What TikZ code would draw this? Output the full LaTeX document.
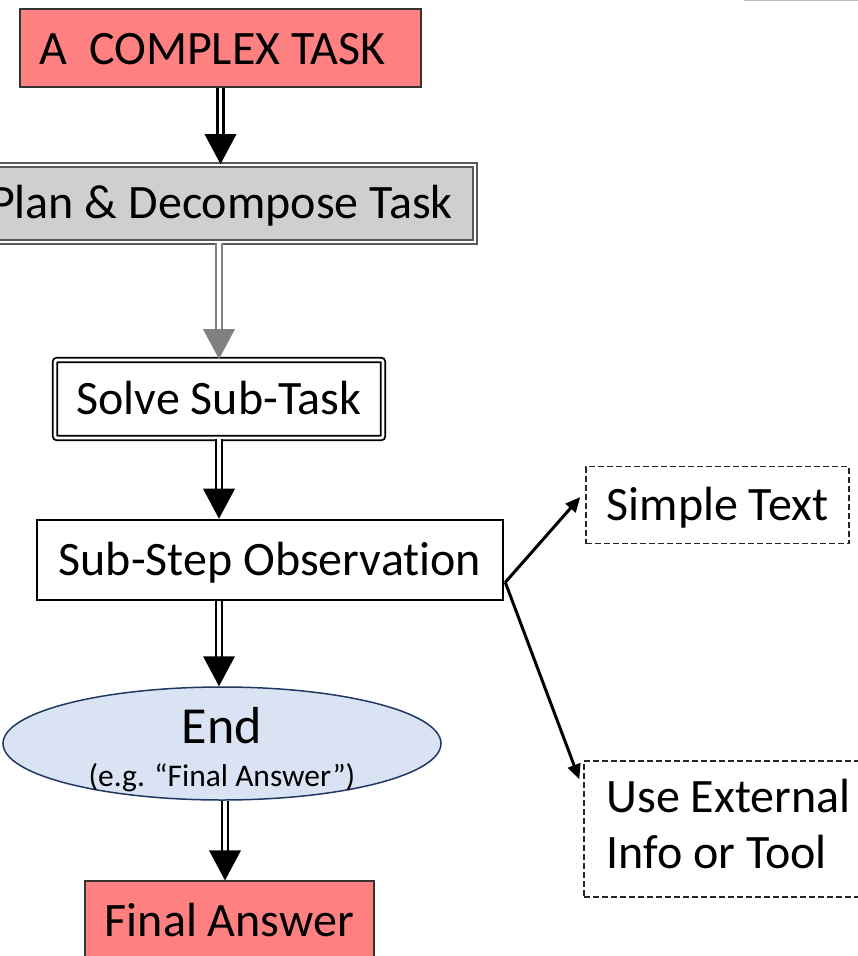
\documentclass[tikz,border=0pt]{standalone}
\usepackage{fontspec}
\setmainfont{Carlito}[Ligatures=NoCommon]
\usetikzlibrary{shapes.geometric,calc,arrows.meta}
\definecolor{taskred}{HTML}{FF8080}
\definecolor{plangray}{HTML}{D0CECE}
\definecolor{endblue}{HTML}{DAE3F3}
\definecolor{endline}{HTML}{203864}
\definecolor{shaftgray}{HTML}{808080}
\tikzset{
  lbl/.style={font=\fontsize{48pt}{56pt}\selectfont},
  capc/.style={text height=30pt, text depth=0pt},
  redbox/.style={lbl, capc, draw=black!80, line width=1.2pt, fill=taskred, inner sep=0pt},
  planbox/.style={lbl, capc, draw=black!65, double=white, line width=1.8pt, double distance=2.4pt,
    fill=plangray, inner sep=0pt},
  solvebox/.style={lbl, capc, draw=black, double=white, line width=1.8pt, double distance=2.6pt,
    rounded corners=2pt, inner sep=0pt},
  obsbox/.style={lbl, capc, draw=black, line width=2.6pt, fill=white, inner sep=0pt},
  dashbox/.style={lbl, capc, draw=black!85, line width=1.3pt, dash pattern=on 6pt off 3pt, inner sep=0pt},
  endshape/.style={ellipse, draw=endline, line width=1.5pt, fill=endblue, inner sep=0pt},
  shaft/.style={draw=black, double=white, line width=2.8pt, double distance=3.2pt},
  sidearrow/.style={draw=black, line width=3pt, -{Triangle[length=15pt,width=13pt]}},
}
% triangular head of a double-shafted flow arrow, tip at #1
\newcommand{\flowhead}[2]{\fill[#2] (#1) -- ++(-16,-30) -- ++(32,0) -- cycle;}
\begin{document}
\begin{tikzpicture}[x=1pt, y=-1pt]
  \useasboundingbox (0,0) rectangle (858,956);
  \clip (0,0) rectangle (858,956);

  % boxes of the main flow
  \node[redbox, minimum width=401pt, minimum height=78pt] (task) at (220.5,48) {};
  \node[lbl, anchor=base west, inner sep=0pt] (tasktxt) at ($(task.west)+(20,16)$)
        {A\ \ COMPLEX TASK};
  \node[planbox, minimum width=507pt, minimum height=77pt] (plan) at (221.5,203.5)
        {Plan \& Decompose Task};
  \node[solvebox, minimum width=328pt, minimum height=78pt] (solve) at (219,399)
        {Solve Sub-Task};
  \node[obsbox, minimum width=466pt, minimum height=80pt] (obs) at (270,560)
        {Sub-Step Observation};
  \node[endshape, minimum width=438pt, minimum height=113pt] (endnode) at (222,743.5) {};
  \node[anchor=base, font=\fontsize{52pt}{60pt}\selectfont] (endtxt)
        at ($(endnode.center)+(0,-0.5)$) {End};
  \node[anchor=base, font=\fontsize{31.5pt}{36pt}\selectfont] (egtxt)
        at ($(endnode.center)+(0,42.5)$) {(e.g. “Final Answer”)};
  \node[redbox, minimum width=289pt, minimum height=80pt] (final) at (229.5,921)
        {Final Answer};

  % side outcomes
  \node[dashbox, minimum width=263pt, minimum height=77pt] (simple) at (717.5,505)
        {Simple Text};
  \node[dashbox, minimum width=286pt, minimum height=136pt] (ext) at (727,829) {};
  \node[lbl, anchor=base west, inner sep=0pt] (exttxt1) at ($(ext.north west)+(23,52)$)
        {Use External};
  \node[lbl, anchor=base west, inner sep=0pt] (exttxt2) at ($(ext.north west)+(23,108)$)
        {Info or Tool};

  % double-shafted flow arrows
  \coordinate (t1) at (task.south |- plan.north);
  \draw[shaft] (task.south) -- ($(t1)+(0,-29)$);
  \flowhead{t1}{black}

  \coordinate (t2) at (solve.north);
  \draw[shaft, draw=shaftgray] (plan.south -| solve.north) -- ($(t2)+(0,-29)$);
  \flowhead{t2}{shaftgray}

  \coordinate (t3) at (solve.south |- obs.north);
  \draw[shaft] (solve.south) -- ($(t3)+(0,-29)$);
  \flowhead{t3}{black}

  \coordinate (t4) at (solve.south |- endnode.north);
  \draw[shaft] (solve.south |- obs.south) -- ($(t4)+(0,-29)$);
  \flowhead{t4}{black}

  \coordinate (t5) at ($(final.north)+(-4.5,0)$);
  \draw[shaft] (t5 |- endnode.south) -- ($(t5)+(0,-29)$);
  \flowhead{t5}{black}

  % branches out of the observation step
  \coordinate (fork) at ($(obs.south east)+(1,-19)$);
  \draw[sidearrow] (fork) -- ($(simple.west)+(-5,-8)$);
  \draw[sidearrow] (fork) -- ($(ext.north west)+(-4,19)$);

  % thin rule along the top edge
  \draw[black!25, line width=1.5pt] (744,0.5) -- (858,0.5);
\end{tikzpicture}
\end{document}
